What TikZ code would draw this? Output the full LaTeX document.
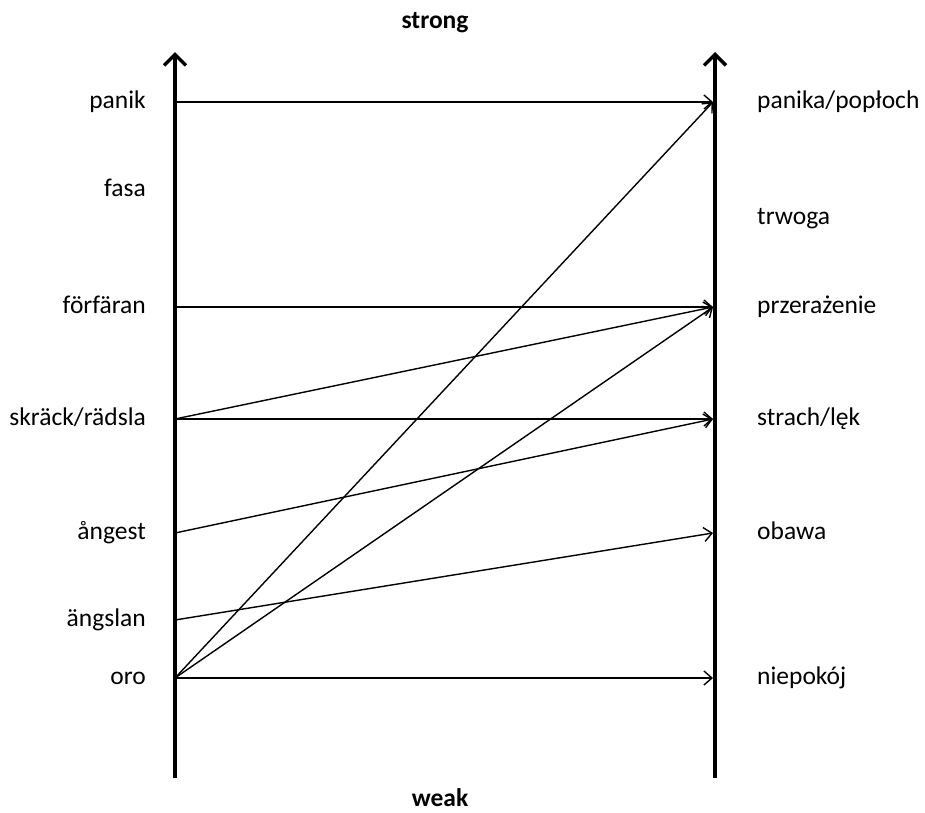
\documentclass[tikz,border=0pt]{standalone}
\usepackage{fontspec}
\setmainfont{Carlito}
\usetikzlibrary{arrows.meta}
\begin{document}
\begin{tikzpicture}[x=1pt,y=-1pt,
  lbl/.style={font=\fontsize{25.5}{30}\selectfont, inner sep=0pt, text height=0.68em, text depth=0.2em, yshift=-4pt},
  lblL/.style={lbl, anchor=east},
  lblR/.style={lbl, anchor=west},
  axis/.style={line width=4.2pt, -{Straight Barb[length=11pt,width=22pt,line width=3.5pt]}},
  conn/.style={line width=1.4pt, -{Straight Barb[length=8pt,width=14pt]}}
]
\useasboundingbox (0,0) rectangle (925,812);
% axes
\coordinate (lbot) at (175,778);
\coordinate (ltop) at (175,52);
\coordinate (rbot) at (715,778);
\coordinate (rtop) at (715,52);
\draw[axis] (lbot) -- (ltop);
\draw[axis] (rbot) -- (rtop);
\node[lbl, font=\fontsize{25.5}{30}\selectfont\bfseries] (strong) at (435,22) {strong};
\node[lbl, font=\fontsize{25.5}{30}\selectfont\bfseries] (weak) at (440,800) {weak};
% left points
\coordinate (lpanik) at (175,102);
\coordinate (lforf) at (175,307);
\coordinate (lskr) at (175,419);
\coordinate (lang) at (175,533);
\coordinate (laengs) at (175,620);
\coordinate (loro) at (175,678);
% right points
\coordinate (rpanika) at (713,102);
\coordinate (rprzer) at (713,307);
\coordinate (rstrach) at (713,419);
\coordinate (robawa) at (713,533);
\coordinate (rniep) at (713,678);
% left labels
\node[lblL] (tpanik) at (146,102) {panik};
\node[lblL] (tfasa) at (146,190) {fasa};
\node[lblL] (tforf) at (146,307) {förfäran};
\node[lblL] (tskr) at (146,419) {skräck/rädsla};
\node[lblL] (tang) at (146,533) {ångest};
\node[lblL] (taengs) at (146,620) {ängslan};
\node[lblL] (toro) at (146,678) {oro};
% right labels
\node[lblR] (tpanika) at (757,102) {panika/popłoch};
\node[lblR] (ttrw) at (757,218) {trwoga};
\node[lblR] (tprzer) at (757,307) {przerażenie};
\node[lblR] (tstrach) at (757,419) {strach/lęk};
\node[lblR] (tobawa) at (757,533) {obawa};
\node[lblR] (tniep) at (757,678) {niepokój};
% connectors
\draw[conn] (lpanik) -- (rpanika);
\draw[conn] (lforf) -- (rprzer);
\draw[conn] (lskr) -- (rprzer);
\draw[conn] (lskr) -- (rstrach);
\draw[conn] (lang) -- (rstrach);
\draw[conn] (laengs) -- (robawa);
\draw[conn] (loro) -- (rpanika);
\draw[conn] (loro) -- (rprzer);
\draw[conn] (loro) -- (rniep);
\end{tikzpicture}
\end{document}
